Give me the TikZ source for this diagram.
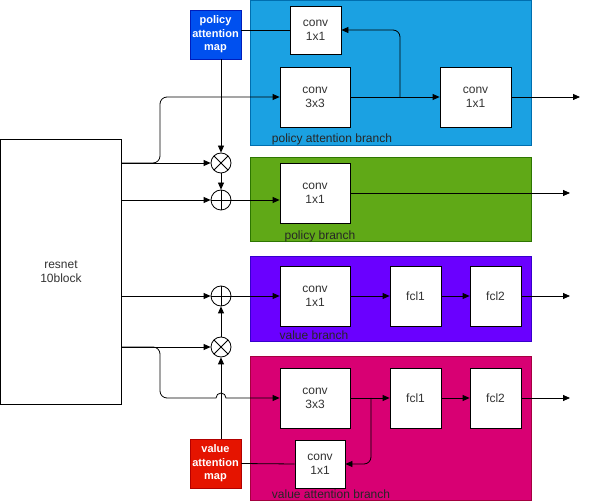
\documentclass[tikz,border=0pt]{standalone}
\usepackage{fontspec}
\setmainfont{Liberation Sans}
\usetikzlibrary{arrows.meta,calc}
\definecolor{pablue}{HTML}{1BA1E2}
\definecolor{pablueb}{HTML}{006EAF}
\definecolor{pgreen}{HTML}{60A917}
\definecolor{pgreenb}{HTML}{2D7600}
\definecolor{vpurple}{HTML}{6A00FF}
\definecolor{vpurpleb}{HTML}{3700CC}
\definecolor{vmag}{HTML}{D80073}
\definecolor{vmagb}{HTML}{A50040}
\definecolor{pamapc}{HTML}{0050EF}
\definecolor{pamapb}{HTML}{001DBC}
\definecolor{vamapc}{HTML}{E51400}
\definecolor{vamapb}{HTML}{B20000}
\definecolor{txtgray}{HTML}{333333}

\begin{document}
\begin{tikzpicture}[x=1pt,y=-1pt,line width=0.8pt,>={Triangle[length=7pt,width=6pt]}]
       \tikzstyle{panel} = [rectangle, line width=0.8pt, inner sep=0pt];
       \tikzstyle{block} = [rectangle, draw=black, fill=white, inner sep=0pt, align=center, text=txtgray, font=\fontsize{12}{14}\selectfont];
       \tikzstyle{attmap} = [rectangle, inner sep=0pt, minimum width=51, minimum height=49, align=center, text=white, font=\bfseries\fontsize{11}{13.5}\selectfont];
       \tikzstyle{tag} = [inner sep=0pt, text=black!85, font=\fontsize{12}{13}\selectfont];
       \tikzstyle{op} = [circle, draw=black, fill=white, minimum size=20, inner sep=0pt];
       \tikzstyle{opplus} = [op, path picture={\draw (path picture bounding box.north) -- (path picture bounding box.south) (path picture bounding box.west) -- (path picture bounding box.east);}];
       \tikzstyle{optimes} = [op, path picture={\draw (path picture bounding box.north west) -- (path picture bounding box.south east) (path picture bounding box.south west) -- (path picture bounding box.north east);}];
       \useasboundingbox (0,0) rectangle (589,502);

       % branch panels
       \node[panel, fill=pablue, draw=pablueb, minimum width=281, minimum height=145] (pabr) at (390.5,72.5) {};
       \node[panel, fill=pgreen, draw=pgreenb, minimum width=281, minimum height=84] (pbr) at (390.5,199) {};
       \node[panel, fill=vpurple, draw=vpurpleb, minimum width=281, minimum height=85] (vbr) at (390.5,298.5) {};
       \node[panel, fill=vmag, draw=vmagb, minimum width=281, minimum height=144] (vabr) at (390.5,428) {};
       \node[tag] (pabrtag) at (332,139) {policy attention branch};
       \node[tag] (pbrtag) at (320,236) {policy branch};
       \node[tag] (vbrtag) at (314,335) {value branch};
       \node[tag] (vabrtag) at (331,494) {value attention branch};

       % blocks
       \node[block, minimum width=121, minimum height=265] (resnet) at (61,271.5) {resnet\\10block};
       \node[block, minimum width=51, minimum height=48] (c11a) at (315.5,30) {conv\\1x1};
       \node[block, minimum width=70, minimum height=60] (c33a) at (315,97) {conv\\3x3};
       \node[block, minimum width=71, minimum height=60] (c11b) at (475.5,97) {conv\\1x1};
       \node[block, minimum width=70, minimum height=60] (c11p) at (315,193) {conv\\1x1};
       \node[block, minimum width=70, minimum height=60] (c11v) at (315,296) {conv\\1x1};
       \node[block, minimum width=51, minimum height=60] (fc1v) at (415.5,296) {fcl1};
       \node[block, minimum width=51, minimum height=60] (fc2v) at (495.5,296) {fcl2};
       \node[block, minimum width=70, minimum height=60] (c33va) at (315,398) {conv\\3x3};
       \node[block, minimum width=51, minimum height=60] (fc1va) at (415.5,398) {fcl1};
       \node[block, minimum width=51, minimum height=60] (fc2va) at (495.5,398) {fcl2};
       \node[block, minimum width=50, minimum height=48] (c11va) at (320,464) {conv\\1x1};
       \node[attmap, fill=pamapc, draw=pamapb] (pamap) at (215.5,34.5) {policy\\attention\\map};
       \node[attmap, fill=vamapc, draw=vamapb] (vamap) at (215.5,463.5) {value\\attention\\map};

       % operators
       \node[optimes] (mul1) at (221,163) {};
       \node[opplus] (add1) at (221,200) {};
       \node[opplus] (add2) at (221,296) {};
       \node[optimes] (mul2) at (221,347) {};

       % bends and free ends
       \coordinate (pbend) at (160,0);
       \coordinate (vbend) at (160,0);
       \coordinate (psplit) at (400,97);
       \coordinate (vsplit) at (371,398);
       \coordinate (o1) at (580,97);
       \coordinate (o2) at (570,193);
       \coordinate (o3) at (570,296);
       \coordinate (o4) at (570,398);

       % policy side
       \draw[->] (resnet.east |- mul1) -- (mul1);
       \draw[->, rounded corners=7] (resnet.east |- mul1) -- (pbend |- mul1) -- (pbend |- c33a) -- (c33a);
       \draw[->] (resnet.east |- add1) -- (add1);
       \draw[->] (mul1 |- pamap.south) -- (mul1);
       \draw[->] (mul1) -- (add1);
       \draw[->] (add1) -- (c11p.west |- add1);
       \draw (c11a.west) -- (c11a.west -| pamap.east);
       \draw[->] (c33a) -- (c11b);
       \draw[->, rounded corners=7] (psplit) -- (psplit |- c11a) -- (c11a.east);
       \draw[->] (c11b) -- (o1);
       \draw[->] (c11p) -- (o2);

       % value side
       \draw[->] (resnet.east |- add2) -- (add2);
       \draw[->] (resnet.east |- mul2) -- (mul2);
       \draw[->] (add2) -- (c11v);
       \draw[->] (mul2) -- (add2);
       \draw[->] (mul2 |- vamap.north) -- (mul2);
       \draw[->] (resnet.east |- mul2) [rounded corners=7] -- (vbend |- mul2) -- (vbend |- c33va) [sharp corners] -- ($(mul2 |- c33va)+(-5,0)$) arc (180:360:5) -- (c33va);
       \draw[->] (c11v) -- (fc1v);
       \draw[->] (fc1v) -- (fc2v);
       \draw[->] (fc2v) -- (o3);
       \draw[->] (c33va) -- (fc1va);
       \draw[->] (fc1va) -- (fc2va);
       \draw[->] (fc2va) -- (o4);
       \draw[->, rounded corners=7] (vsplit) -- (vsplit |- c11va) -- (c11va.east);
       \draw (c11va.west) -- (vamap.east);
     \end{tikzpicture}
\end{document}
